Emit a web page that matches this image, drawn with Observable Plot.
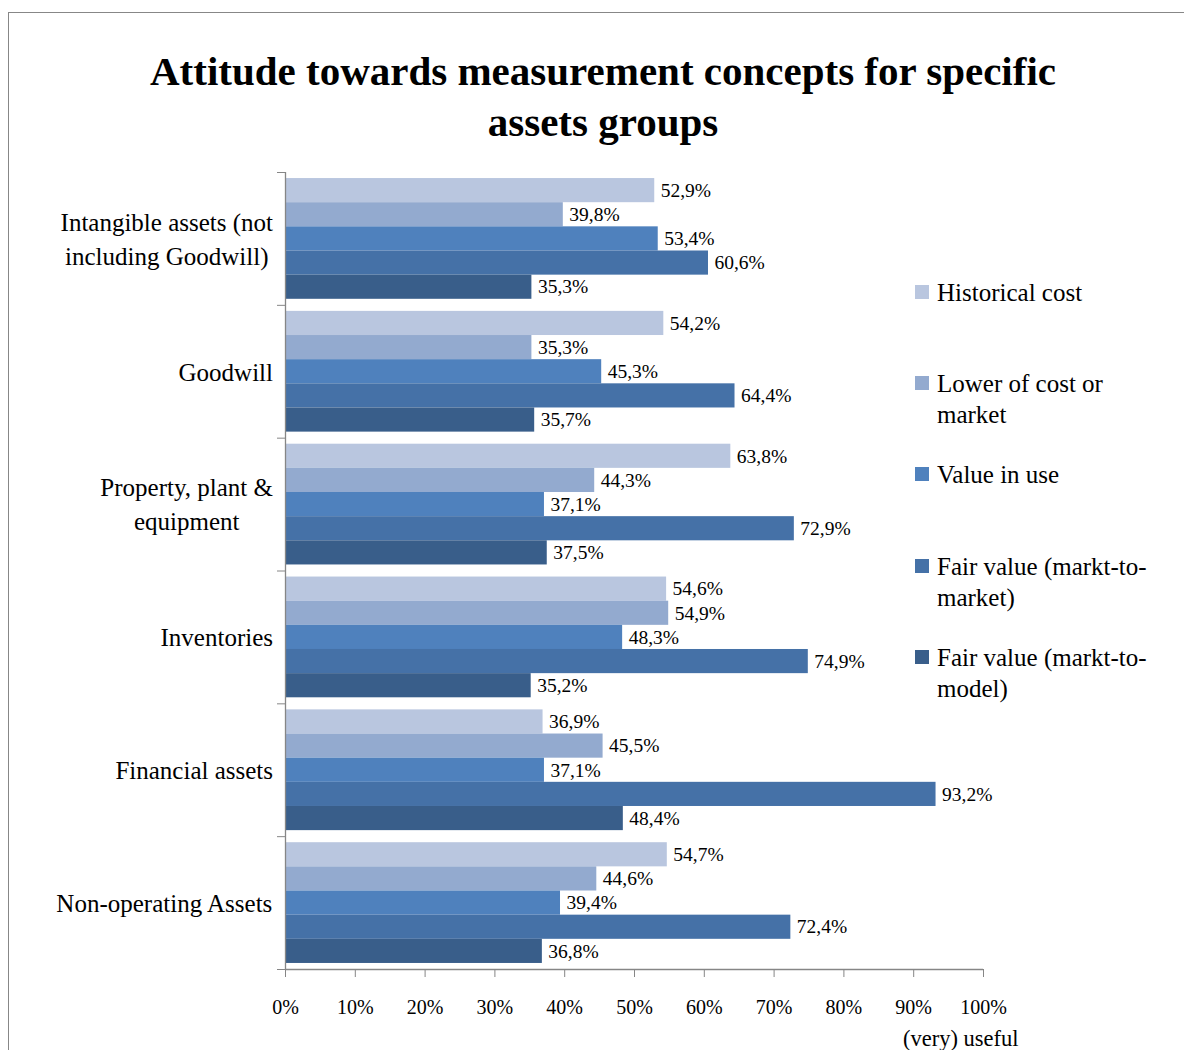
<!DOCTYPE html>
<html>
<head>
<meta charset="utf-8">
<script src="https://cdn.jsdelivr.net/npm/d3@7"></script>
<script src="https://cdn.jsdelivr.net/npm/@observablehq/plot@0.6"></script>
<style>
  html, body { margin: 0; padding: 0; background: #fff; }
  #wrap { position: relative; width: 1184px; height: 1050px; overflow: hidden; font-family: "Liberation Serif", "Times New Roman", serif; color: #000; }
  #frame { position: absolute; left: 8px; top: 12px; width: 1400px; height: 1300px; border-top: 1.5px solid #878787; border-left: 1.5px solid #878787; }
  #chart { position: absolute; left: 0; top: 0; }
  #title { position: absolute; left: 103px; width: 1000px; top: 46px; text-align: center; font-weight: bold; font-size: 41px; line-height: 51px; z-index: 2; }
  #legend { position: absolute; left: 0; top: 0; z-index: 2; }
  .lg { position: absolute; left: 915px; font-size: 25px; line-height: 31px; }
  .lg .sw { position: absolute; left: 0; top: 8px; width: 14px; height: 14px; }
  .lg .tx { position: absolute; left: 22px; white-space: pre; }
  #xlabel { position: absolute; left: 903px; top: 1025px; font-size: 22.5px; line-height: 28px; z-index: 2; }
</style>
</head>
<body>
<div id="wrap">
  <div id="frame"></div>
  <div id="chart"></div>
  <div id="title">Attitude towards measurement concepts for specific<br>assets groups</div>
  <div id="legend"></div>
  <div id="xlabel">(very) useful</div>
</div>
<script>
// ---- Data ----
const categories = [
  "Intangible assets (not\nincluding Goodwill)",
  "Goodwill",
  "Property, plant &\nequipment",
  "Inventories",
  "Financial assets",
  "Non-operating Assets"
];
const series = [
  "Historical cost",
  "Lower of cost or\nmarket",
  "Value in use",
  "Fair value (markt-to-\nmarket)",
  "Fair value (markt-to-\nmodel)"
];
const colors = ["#B9C6DF", "#93AACF", "#4F81BD", "#4571A7", "#395E8A"];
// values[category][series], percent
const intangibleValues = [52.9, 39.8, 53.4, 60.6, 35.3];
const goodwillValues = [54.2, 35.3, 45.3, 64.4, 35.7];
const ppeValues = [63.8, 44.3, 37.1, 72.9, 37.5];
const inventoriesValues = [54.6, 54.9, 48.3, 74.9, 35.2];
const financialValues = [36.9, 45.5, 37.1, 93.2, 48.4];
const nonOperatingValues = [54.7, 44.6, 39.4, 72.4, 36.8];
const xTicks = [0, 10, 20, 30, 40, 50, 60, 70, 80, 90, 100];

const valueRows = [intangibleValues, goodwillValues, ppeValues, inventoriesValues, financialValues, nonOperatingValues];

// Layout in band units: each category occupies groupSize units, bars 1 unit each
const groupSize = 5.5;
const groupPad = 0.25;
const data = [];
valueRows.forEach((row, i) => {
  row.forEach((v, j) => {
    data.push({
      category: categories[i],
      series: series[j],
      color: colors[j],
      value: v,
      y1: i * groupSize + groupPad + j,
      y2: i * groupSize + groupPad + j + 1
    });
  });
});
const yMax = categories.length * groupSize;
const boundaries = d3.range(categories.length + 1).map(i => i * groupSize);
const labelRows = categories.map((c, i) => ({category: c, y: i * groupSize + groupSize / 2}));

const fmt = v => v.toFixed(1).replace(".", ",") + "%";
const axisColor = "#868686";

// measure category labels for centered multi-line blocks, right-justified
const canvas = document.createElement("canvas");
const ctx = canvas.getContext("2d");
ctx.font = "25px 'Liberation Serif'";
const labelMarks = labelRows.map(r => {
  const w = d3.max(r.category.split("\n"), l => ctx.measureText(l).width);
  return Plot.text([r], {
    x: 0, y: "y", text: "category",
    dx: -(12.5 + w / 2), dy: -2, textAnchor: "middle",
    fontSize: 25, lineHeight: 1.36, fill: "#000"
  });
});

const chart = Plot.plot({
  width: 1184,
  height: 1050,
  marginLeft: 285,
  marginRight: 201,
  marginTop: 172,
  marginBottom: 81,
  style: {fontFamily: "'Liberation Serif', 'Times New Roman', serif", fontSize: "19.5px", color: "#000", background: "transparent", overflow: "visible"},
  x: {domain: [0, 100]},
  y: {domain: [0, yMax], reverse: true},
  marks: [
    Plot.rectX(data, {x1: 0, x2: "value", y1: "y1", y2: "y2", fill: "color"}),
    Plot.text(data, {x: "value", y: d => (d.y1 + d.y2) / 2, text: d => fmt(d.value), textAnchor: "start", dx: 6, fontSize: 19.5, fill: "#000"}),
    Plot.ruleX([0], {y1: 0, y2: yMax, stroke: axisColor, strokeWidth: 1.3}),
    Plot.ruleY([yMax], {x1: 0, x2: 100, stroke: axisColor, strokeWidth: 1.3}),
    Plot.axisY({ticks: boundaries, tickSize: 8, tickFormat: () => "", stroke: axisColor, label: null}),
    Plot.axisX({ticks: xTicks, tickSize: 8, tickPadding: 22, tickFormat: d => d + "%", fontSize: 20, stroke: axisColor, label: null}),
    ...labelMarks
  ]
});
document.getElementById("chart").appendChild(chart);

// legend
const legend = document.getElementById("legend");
series.forEach((s, j) => {
  const item = document.createElement("div");
  item.className = "lg";
  item.style.top = (277 + j * 91.2) + "px";
  const sw = document.createElement("div");
  sw.className = "sw";
  sw.style.background = colors[j];
  const tx = document.createElement("div");
  tx.className = "tx";
  tx.textContent = s;
  item.appendChild(sw);
  item.appendChild(tx);
  legend.appendChild(item);
});
</script>
</body>
</html>
